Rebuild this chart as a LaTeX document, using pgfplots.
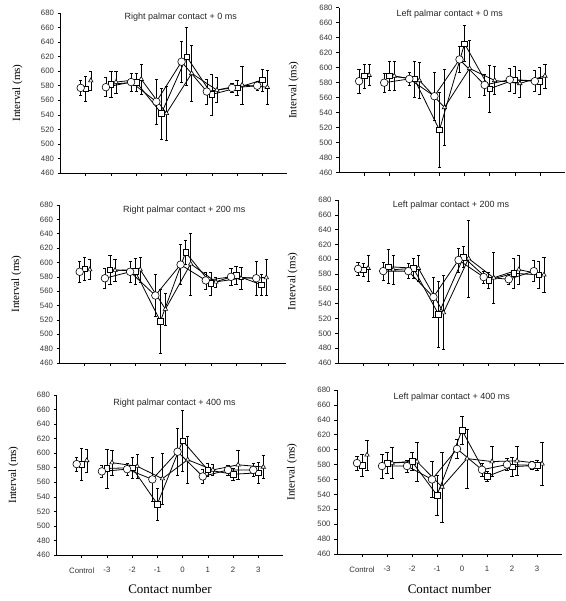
\documentclass[border=0pt]{standalone}
\usepackage{pgfplots}
\pgfplotsset{compat=1.18}
\usepackage{pgfplotstable}
\usepackage{fontspec}
\setmainfont{Liberation Sans}
\newfontfamily\serif{Liberation Serif}

% x: 0=Control, 1..7 = -3..3 ; c=circle, s=square, t=triangle (value, error)
\pgfplotstableread{
x c ce s se t te
0 577 10 576 17 587 13
0.5 nan 0 nan 0 nan 0
1 578 13 582 18 585 15
2 585 12 585 12 589 21
3 558 31 542 35 542 37
4 613 28 620 40 597 38
5 572 17 568 28 574 17
6 577 6 577 10 581 26
7 580 6 588 15 578 23
}\dataA
\pgfplotstableread{
x c ce s se t te
0 582 16 589 16 590 14
0.5 nan 0 nan 0 nan 0
1 580 13 589 19 589 19
2 585 9 585 24 583 24
3 562 32 517 50 547 51
4 611 17 632 24 599 38
5 577 14 572 31 583 19
6 584 15 584 18 579 18
7 582 14 582 18 589 16
}\dataB
\pgfplotstableread{
x c ce s se t te
0 587 15 591 16 590 14
0.5 nan 0 nan 0 nan 0
1 578 14 590 20 589 15
2 587 14 588 18 590 17
3 554 29 518 45 535 22
4 597 28 614 17 598 43
5 575 12 571 16 573 7
6 580 12 582 13 578 16
7 578 23 569 14 579 25
}\dataC
\pgfplotstableread{
x c ce s se t te
0 587 9 586 9 588 18
0.5 nan 0 nan 0 nan 0
1 584 12 590 23 586 20
2 584 10 588 14 588 18
3 549 27 526 45 528 50
4 599 16 603 14 601 52
5 576 8 572 11 575 35
6 573 7 581 20 586 20
7 584 14 579 18 579 24
}\dataD
\pgfplotstableread{
x c ce s se t te
0 585 10 585 22 590 16
0.5 nan 0 nan 0 nan 0
1 575 8 579 27 587 17
2 578 8 580 15 582 17
3 564 30 530 22 565 35
4 602 32 617 42 591 32
5 568 10 577 9 577 8
6 577 7 571 8 584 20
7 577 9 573 14 581 16
}\dataE
\pgfplotstableread{
x c ce s se t te
0 582 9 579 15 593 20
0.5 nan 0 nan 0 nan 0
1 578 16 582 14 582 21
2 578 8 584 12 584 26
3 560 24 539 27 550 47
4 601 13 626 19 588 40
5 573 9 564 7 584 20
6 580 8 577 13 585 19
7 579 5 579 7 581 29
}\dataF

\pgfplotsset{
  panel/.style={
    scale only axis,
    xmin=-1, xmax=8, ymin=460, ymax=680,
    axis lines=left,
    axis line style={-, line width=0.5pt, black},
    ytick={460,480,...,680},
    xtick={0,...,7},
    xticklabels={},
    tick align=outside,
    major tick length=3pt,
    tick style={black, line width=0.5pt},
    /pgf/number format/assume math mode=true,
    yticklabel style={font=\fontsize{7.8}{9}\selectfont, text=black!80},
    xticklabel style={font=\fontsize{7.8}{9}\selectfont, text=black!80, yshift=-6pt},
    unbounded coords=jump,
    clip=false,
    ylabel={Interval (ms)},
    every axis y label/.style={at={(axis description cs:-0.19,0.5)}, rotate=90, anchor=center, font=\serif\fontsize{11}{13}\selectfont},
    every axis x label/.style={at={(axis description cs:0.5,-0.215)}, anchor=center, font=\serif\fontsize{13}{15}\selectfont},
  },
  ebar/.style={error bars/.cd, y dir=both, y explicit,
    error bar style={line width=0.5pt, black},
    error mark options={rotate=90, mark size=1.6pt, line width=0.5pt, black}},
}

\newcommand{\series}[1]{%
  \addplot[black, line width=0.8pt, mark=triangle*, mark size=2.6pt, mark options={fill=white, solid, line width=0.6pt}, ebar]
    table[x expr=\thisrow{x}+0.2, y=t, y error=te] {#1};
  \addplot[black, line width=0.8pt, mark=square*, mark size=2.8pt, mark options={fill=white, solid, line width=0.6pt}, ebar]
    table[x expr=\thisrow{x}, y=s, y error=se] {#1};
  \addplot[black, line width=0.8pt, mark=*, mark size=3.8pt, mark options={fill=white, solid, line width=0.6pt}, ebar]
    table[x expr=\thisrow{x}-0.2, y=c, y error=ce] {#1};
}
\newcommand{\ttl}[2]{\node[font=\fontsize{9}{11}\selectfont, text=black!85] at (rel axis cs:#1) {#2};}

\begin{document}
\begin{tikzpicture}
\path[use as bounding box] (0pt,0pt) rectangle (565pt,601pt);

% Row 1
\begin{axis}[panel, at={(60.5pt,428pt)}, anchor=south west, width=227pt, height=160pt]
\series{\dataA}
\ttl{0.53,0.975}{Right palmar contact + 0 ms}
\end{axis}
\begin{axis}[panel, at={(339pt,428.3pt)}, anchor=south west, width=226pt, height=165pt,
  every axis y label/.style={at={(axis description cs:-0.2,0.5)}, rotate=90, anchor=center, font=\serif\fontsize{11}{13}\selectfont}]
\series{\dataB}
\ttl{0.49,0.96}{Left palmar contact + 0 ms}
\end{axis}

% Row 2
\begin{axis}[panel, at={(59.5pt,238pt)}, anchor=south west, width=227pt, height=158pt]
\series{\dataC}
\ttl{0.55,0.97}{Right palmar contact + 200 ms}
\end{axis}
\begin{axis}[panel, at={(338pt,238pt)}, anchor=south west, width=226pt, height=163pt,
  every axis y label/.style={at={(axis description cs:-0.2,0.5)}, rotate=90, anchor=center, font=\serif\fontsize{11}{13}\selectfont}]
\series{\dataD}
\ttl{0.50,0.97}{Left palmar contact + 200 ms}
\end{axis}

% Row 3
\begin{axis}[panel, at={(56.5pt,46pt)}, anchor=south west, width=227pt, height=160pt,
  xticklabels={Control,-3,-2,-1,0,1,2,3}, xlabel={Contact number}]
\series{\dataE}
\ttl{0.52,0.95}{Right palmar contact + 400 ms}
\end{axis}
\begin{axis}[panel, at={(337pt,47pt)}, anchor=south west, width=225pt, height=164pt,
  xticklabels={Control,-3,-2,-1,0,1,2,3}, xlabel={Contact number},
  every axis y label/.style={at={(axis description cs:-0.2,0.5)}, rotate=90, anchor=center, font=\serif\fontsize{11}{13}\selectfont}]
\series{\dataF}
\ttl{0.51,0.955}{Left palmar contact + 400 ms}
\end{axis}
\end{tikzpicture}
\end{document}
